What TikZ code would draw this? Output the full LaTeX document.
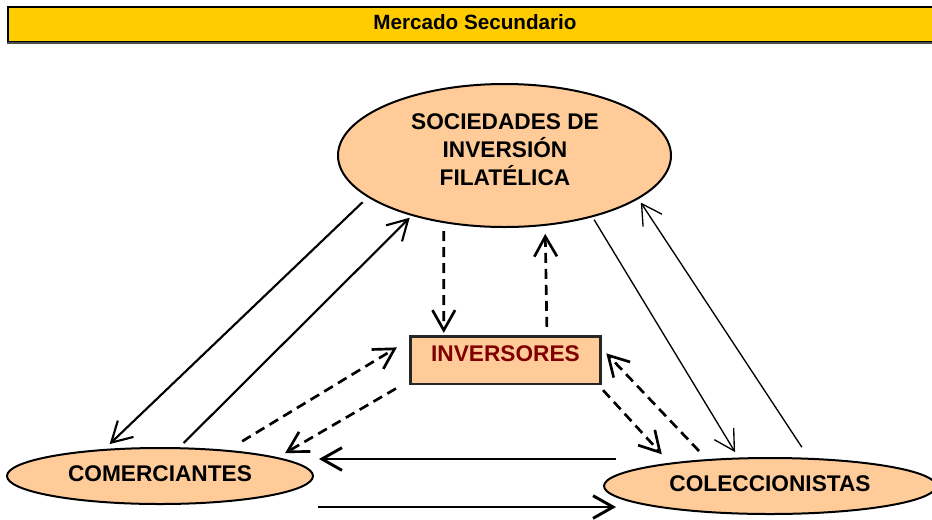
\documentclass[tikz,border=0pt]{standalone}
\usepackage{fontspec}
\setmainfont{Liberation Sans}
\usetikzlibrary{arrows.meta}
\usetikzlibrary{shapes.geometric}
\definecolor{bandyellow}{RGB}{255,204,0}
\definecolor{peach}{RGB}{255,204,153}
\definecolor{darkred}{RGB}{128,0,0}

\begin{document}
\begin{tikzpicture}[x=0.75pt,y=-0.75pt]
        \tikzset{titlebar/.style = {draw=black, line width=0.8pt, fill=bandyellow, minimum width=700.5pt, minimum height=26.25pt, inner sep=0pt, text depth=3.5pt, font=\bfseries\fontsize{15.5}{18}\selectfont}}
        \tikzset{oval/.style = {ellipse, draw=black, line width=1.5pt, fill=peach, inner sep=0pt, text depth=4pt, font=\bfseries\fontsize{17}{21}\selectfont}}
        \tikzset{invbox/.style = {rectangle, draw=black!85, line width=1.8pt, fill=peach, minimum width=142.5pt, minimum height=35.6pt, inner sep=0pt, text depth=10pt, text=darkred, font=\bfseries\fontsize{17}{21}\selectfont}}
        \tikzset{flow/.style = {-{Straight Barb[length=15pt,width=17pt]}}}
        \tikzset{edge/.style = {flow, line width=1.6pt}}
        \tikzset{thinedge/.style = {flow, line width=1pt}}
        \tikzset{dashedge/.style = {flow, line width=2pt, dash pattern=on 7.5pt off 4.5pt}}
        \tikzset{boldedge/.style = {flow, line width=2.2pt}}

        \useasboundingbox (0,0) rectangle (932,519);

        \node[titlebar] (title) at (475,24.5) {Mercado Secundario};
        \draw[black!70, line width=1.5pt] (title.south west) to (title.south east);

        \node[oval, minimum width=249.75pt, minimum height=107.25pt] (soc) at (504.5,155.5) {};
        \node[font=\bfseries\fontsize{17}{21}\selectfont, align=center, inner sep=0pt] (soctext) at (505,149.5) {SOCIEDADES DE\\INVERSIÓN\\FILATÉLICA};
        \node[invbox] (inv) at (505.5,360.3) {INVERSORES};
        \node[oval, minimum width=229.5pt, minimum height=42pt] (com) at (160,476) {COMERCIANTES};
        \node[oval, minimum width=249pt, minimum height=42pt] (col) at (770,486) {COLECCIONISTAS};

        \draw[edge, shorten <=5.3pt, shorten >=5.3pt] (soc.197.7) to (com.154.7);
        \draw[edge, shorten <=4.5pt, shorten >=2pt] (com.56.1) to (soc.213.1);

        \draw[dashedge, shorten <=6pt, shorten >=1.9pt] (soc.228.3) to (inv.158.5);
        \draw[dashedge, shorten <=6.4pt, shorten >=6pt] (inv.31.1) to (soc.300.3);

        \draw[thinedge, shorten <=2.2pt, shorten >=4.8pt] (soc.325) to (col.138.1);
        \draw[thinedge, shorten <=9.5pt, shorten >=3.2pt] (col.36.6) to (soc.342.1);

        \draw[dashedge, shorten <=12.6pt, shorten >=10.9pt] (com.21.9) to (inv.168.3);
        \draw[dashedge, shorten <=11.6pt, shorten >=6.3pt] (inv.192) to (com.9.5);

        \draw[dashedge, shorten <=5pt, shorten >=8.7pt] (inv.345.7) to (col.167.5);
        \draw[dashedge, shorten <=8.4pt, shorten >=5pt] (col.157.8) to (inv.7.85);

        \draw[boldedge] ([shift={(13,-27)}]col.west) to ([shift={(5,-17)}]com.east);
        \draw[boldedge] ([shift={(4,31)}]com.east) to ([shift={(13,21)}]col.west);
    \end{tikzpicture}
\end{document}
